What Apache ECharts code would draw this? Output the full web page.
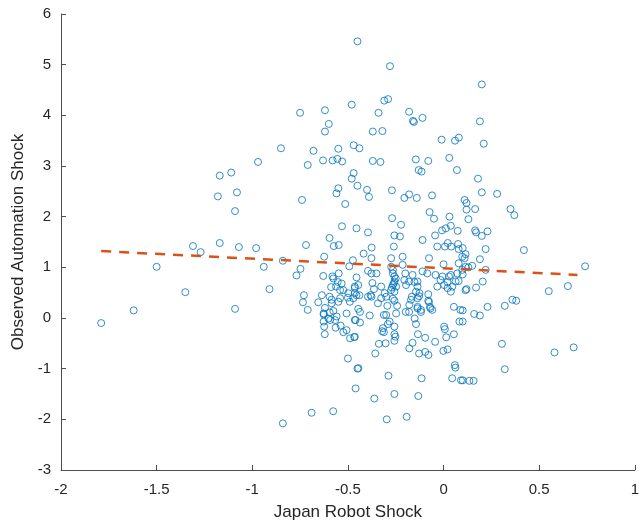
<!DOCTYPE html>
<html>
<head>
<meta charset="utf-8">
<script src="https://cdn.jsdelivr.net/npm/echarts@6/dist/echarts.min.js"></script>
<style>
  html, body { margin: 0; padding: 0; background: #fff; }
  #chart { width: 642px; height: 527px; }
</style>
</head>
<body>
<div id="chart"></div>
<script>
// [robot shock, automation shock] pairs
var points = [
  [-1.79,-0.10],[-1.62,0.15],[-1.50,1.01],[-1.35,0.51],[-1.31,1.42],[-1.27,1.30],[-1.17,1.48],[-1.09,0.18],[-1.07,1.40],[-0.98,1.38],
  [-0.97,3.08],[-1.17,2.81],[-1.11,2.87],[-1.18,2.40],[-1.08,2.48],[-1.09,2.11],
  [-0.94,1.01],[-0.91,0.57],[-0.84,1.13],[-0.85,3.35],[-0.84,-2.08],
  [-0.45,5.46],[-0.75,4.05],[-0.62,4.10],[-0.48,4.21],[-0.60,3.83],[-0.62,3.68],[-0.68,3.30],[-0.55,3.34],[-0.47,3.41],[-0.44,3.35],
  [-0.71,3.02],[-0.63,3.11],[-0.58,3.11],[-0.555,3.14],[-0.53,3.09],[-0.47,2.86],[-0.48,2.75],[-0.45,2.61],[-0.55,2.56],[-0.56,2.46],[-0.74,2.33],
  [-0.28,4.97],[-0.31,4.29],[-0.29,4.32],[-0.34,4.05],[-0.18,4.07],[-0.16,3.89],[-0.155,3.87],[-0.11,3.95],[-0.37,3.68],[-0.32,3.69],
  [-0.01,3.52],[0.06,3.50],[0.08,3.56],[-0.37,3.10],[-0.33,3.08],[-0.145,3.13],[-0.08,3.10],[0.03,3.16],[-0.13,2.92],[-0.115,2.89],[0.07,2.92],
  [-0.40,2.53],[-0.27,2.52],[-0.39,2.39],[-0.18,2.44],[-0.205,2.37],[-0.14,2.37],[-0.06,2.42],[0.11,2.33],
  [0.20,4.61],[0.19,3.88],[0.21,3.44],[0.18,2.75],[0.20,2.48],[0.28,2.45],[0.12,2.27],[0.12,2.14],[0.165,2.15],[0.35,2.15],[0.37,2.03],
  [0.13,1.95],[0.165,1.73],[0.17,1.69],[0.20,1.62],[0.23,1.71],[0.10,1.38],[0.22,1.36],[0.42,1.34],[0.11,1.18],[0.19,1.16],
  [0.13,1.00],[0.15,1.03],[0.22,0.95],[0.74,1.02],[0.10,0.86],[0.205,0.72],[0.12,0.57],[0.17,0.60],[0.55,0.53],[0.65,0.63],
  [0.36,0.36],[0.38,0.34],[0.32,0.24],[0.23,0.22],[0.10,0.15],[0.16,0.08],[0.19,0.05],[0.10,-0.07],[0.305,-0.51],[0.58,-0.68],
  [0.68,-0.58],[0.32,-1.01],[0.10,-1.23],[0.135,-1.24],[0.157,-1.24],
  [-0.73,0.45],[-0.735,0.31],[-0.71,0.16],[-0.655,0.31],[-0.62,0.20],[-0.626,0.07],[-0.595,0.11],[-0.576,0.14],[-0.585,0.36],[-0.55,0.32],
  [-0.596,0.42],[-0.50,0.40],[-0.49,0.32],[-0.593,-0.04],[-0.567,-0.04],[-0.564,-0.19],[-0.624,-0.17],[-0.621,-0.32],[-0.538,-0.15],[-0.507,0.09],
  [-0.464,-0.04],[-0.524,-0.28],[-0.507,-0.24],[-0.489,-0.40],[-0.467,-0.38],[-0.50,-0.80],[-0.45,-1.00],[-0.46,-1.39],[-0.69,-1.87],[-0.577,-1.84],
  [-0.446,0.18],[-0.46,-0.04],[-0.437,-0.09],[-0.464,-0.37],[-0.386,0.05],[-0.343,0.29],[-0.294,0.24],[-0.243,0.24],[-0.326,0.39],[-0.265,0.38],
  [-0.257,0.34],[-0.312,0.06],[-0.282,-0.07],[-0.291,-0.12],[-0.257,-0.17],[-0.257,-0.32],[-0.252,-0.37],[-0.257,-0.45],[-0.321,-0.26],[-0.312,-0.28],
  [-0.338,-0.51],[-0.303,-0.50],[-0.357,-0.70],[-0.445,-0.99],[-0.288,-1.14],[-0.362,-1.59],[-0.257,-1.50],[-0.297,-2.00],[-0.193,-1.95],[-0.115,-1.19],
  [-0.132,-1.54],[-0.198,0.12],[-0.179,0.26],[-0.151,-0.01],[-0.144,-0.12],[-0.136,0.22],[-0.118,0.16],[-0.166,0.42],[-0.128,0.43],[-0.08,0.34],
  [-0.071,0.22],[-0.059,0.16],[-0.134,-0.32],[-0.096,-0.39],[-0.044,-0.47],[-0.162,-0.49],[-0.179,-0.60],[-0.128,-0.70],[-0.096,-0.67],[-0.079,-0.73],
  [-0.001,-0.65],[0.021,-0.62],[0.007,-0.22],[0.014,-0.38],[0.054,-0.32],[0.054,0.22],[0.088,0.16],[0.083,-0.07],[0.059,-0.93],[0.062,-0.98],
  [0.045,-1.19],[0.091,-1.23],[-0.44,0.45],[-0.395,0.42],[-0.377,0.42],
  [-0.514,2.25],[-0.531,1.81],[-0.596,1.58],[-0.574,1.42],[-0.548,1.44],[-0.719,1.44],[-0.624,1.21],[-0.748,0.97],[-0.769,0.84],[-0.629,0.83],
  [-0.474,1.14],[-0.493,1.02],[-0.581,0.82],[-0.548,0.88],[-0.553,0.71],[-0.533,0.68],[-0.562,0.62],[-0.588,0.61],[-0.541,0.55],[-0.464,0.62],
  [-0.455,0.45],[-0.498,0.49],[-0.472,0.39],
  [-0.073,2.09],[-0.05,1.96],[-0.269,1.97],[0.031,2.00],[-0.455,1.77],[-0.395,1.69],[-0.222,1.84],[-0.257,1.63],[-0.228,1.61],[0.012,1.77],
  [-0.008,1.73],[0.038,1.82],[0.074,1.72],[-0.110,1.54],[-0.044,1.63],[-0.376,1.39],[-0.260,1.41],[-0.033,1.41],[0.007,1.41],[0.022,1.48],
  [0.04,1.41],[0.076,1.46],[0.079,1.36],[0.098,1.21],[0.115,1.26],[-0.418,1.27],[-0.076,1.18],[-0.214,1.21],[-0.274,1.18],[0.0,1.06],
  [0.079,1.08],[0.115,1.01],[-0.455,0.80],[-0.395,0.93],[-0.377,0.88],[-0.351,0.88],
  [-0.274,1.01],[-0.265,0.95],[-0.265,0.88],[-0.257,0.82],[-0.257,0.72],[-0.265,0.65],[-0.248,0.62],[-0.274,0.55],[-0.257,0.52],
  [-0.2,0.88],[-0.205,0.75],[-0.196,0.65],[-0.152,0.71],[-0.136,0.62],[-0.144,0.52],[-0.126,0.49],[-0.11,0.92],[-0.085,0.88],[-0.042,0.85],
  [-0.08,0.47],[-0.006,0.82],[0.029,0.82],[0.021,0.71],[0.003,0.65],[0.046,0.62],[0.063,0.72],[0.079,0.73],[-0.446,0.65],[-0.464,0.49],
  [-0.372,0.69],[-0.364,0.57],[-0.381,0.45],[-0.326,0.62],[-0.308,0.49],
  [-0.377,1.18],[-0.27,0.60],[-0.25,0.78],[-0.26,0.68],[-0.30,0.42],[-0.30,0.06],[-0.248,0.09],[-0.317,-0.20],[-0.214,1.05],
  [-0.016,0.75],[0.021,0.59],[0.038,0.85],[0.072,0.88],[0.098,0.95],[-0.162,0.85],[-0.18,0.72],[-0.136,0.72],[-0.136,0.39],[-0.033,0.62],
  [0.038,0.52],[0.115,0.55],[-0.076,0.32],[-0.068,0.19],[-0.136,0.19],[-0.118,0.12],[-0.17,0.36],[-0.18,0.12],[0.003,-0.17],
  [-0.576,0.78],[-0.524,0.55],[-0.464,0.59],[-0.636,0.45],[-0.585,0.29],[-0.541,0.39],[-0.627,0.09],[-0.602,-0.01],[-0.559,0.03],[-0.437,0.12],
  [-0.627,-0.07]
];

// dashed fit line end points
var fitX = [-1.79, 0.70];
var fitY = [1.32, 0.85];

var xTicks = { min: -2, max: 1, step: 0.5 };
var yTicks = { min: -3, max: 6, step: 1 };

var chart = echarts.init(document.getElementById('chart'));

var axisCommon = {
  axisLine: { show: true, onZero: false, lineStyle: { color: '#4d4d4d', width: 1 } },
  axisTick: { show: true, inside: true, length: 5, lineStyle: { color: '#4d4d4d' } },
  axisLabel: { color: '#262626', fontSize: 15, fontFamily: 'Liberation Sans, Arial, sans-serif' },
  splitLine: { show: false },
  nameLocation: 'middle',
  nameTextStyle: { color: '#262626', fontSize: 17, fontFamily: 'Liberation Sans, Arial, sans-serif' }
};

var option = {
  animation: false,
  backgroundColor: '#fff',
  grid: { left: 61, right: 2, top: 14, bottom: 57 },
  xAxis: Object.assign({}, axisCommon, {
    type: 'value',
    min: xTicks.min, max: xTicks.max, interval: xTicks.step,
    name: 'Japan Robot Shock',
    nameGap: 34,
    axisLabel: Object.assign({}, axisCommon.axisLabel, { margin: 12 })
  }),
  yAxis: Object.assign({}, axisCommon, {
    type: 'value',
    min: yTicks.min, max: yTicks.max, interval: yTicks.step,
    name: 'Observed Automation Shock',
    nameGap: 31,
    axisLabel: Object.assign({}, axisCommon.axisLabel, { margin: 10 })
  }),
  series: [
    {
      type: 'scatter',
      data: points,
      symbol: 'circle',
      symbolSize: 7,
      itemStyle: { color: 'rgba(0,0,0,0)', borderColor: '#0072BD', borderWidth: 1 },
      emphasis: { disabled: true },
      z: 2
    },
    {
      type: 'line',
      data: fitX.map(function (x, i) { return [x, fitY[i]]; }),
      symbol: 'none',
      lineStyle: { color: '#D95319', width: 2.5, type: [10, 8] },
      emphasis: { disabled: true },
      z: 3
    }
  ]
};

chart.setOption(option);
</script>
</body>
</html>
